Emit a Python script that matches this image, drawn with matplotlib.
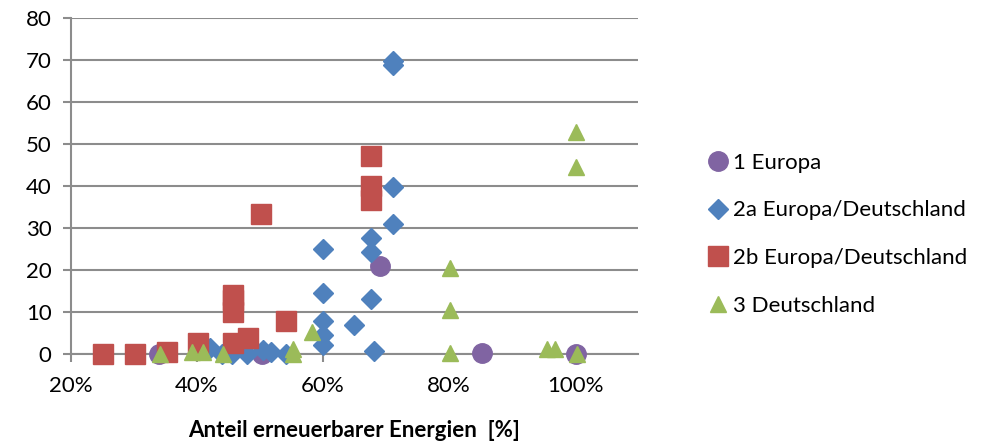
import matplotlib
matplotlib.use("Agg")
import matplotlib.pyplot as plt
from matplotlib.ticker import FuncFormatter

plt.rcParams['font.family'] = ['Lato', 'DejaVu Sans']

# 1 Europa
x_eu = [34, 50.3, 69, 85.2, 100.2]
y_eu = [0, 0, 21, 0.2, 0]
# 2a Europa/Deutschland
x_2a = [42, 44, 45.5, 48, 50.5, 51.8, 54.2, 60, 60, 60, 60, 60, 64.9, 67.6, 67.6, 67.6, 68.1, 71.1, 71.1, 71.1, 71.1]
y_2a = [1.4, 0, 0, 0, 1, 0.5, 0, 25, 14.5, 7.8, 4.5, 2.2, 7, 27.6, 24.4, 13.1, 0.7, 69.8, 68.8, 39.8, 31]
# 2b Europa/Deutschland
x_2b = [25.1, 30.2, 35.2, 40.2, 45.7, 45.7, 45.7, 45.7, 48.1, 50.2, 54.1, 67.6, 67.6, 67.6]
y_2b = [0, 0, 0.4, 2.6, 14, 12.9, 10, 2.6, 3.8, 33.3, 7.8, 47.1, 40, 36.7]
# 3 Deutschland
x_3 = [34.1, 39.2, 41, 44.1, 55.2, 55.2, 58.3, 80.2, 80.2, 80.2, 95.6, 96.8, 100.3, 100.2, 100.2]
y_3 = [0, 0.5, 0.5, 0, 1.2, 0, 5.3, 20.6, 10.5, 0.2, 1.1, 1.1, 0, 52.8, 44.6]

fig = plt.figure(figsize=(9.97, 4.42), dpi=100)
ax = fig.add_axes([0.0712, 0.199, 0.5688, 0.760])

ax.plot(x_eu, y_eu, 'o', color='#8064A2', markersize=14, label='1 Europa', zorder=3, clip_on=False)
ax.plot(x_2a, y_2a, 'D', color='#4F81BD', markersize=10, label='2a Europa/Deutschland', zorder=3, clip_on=False)
ax.plot(x_2b, y_2b, 's', color='#C0504D', markersize=14, label='2b Europa/Deutschland', zorder=3, clip_on=False)
ax.plot(x_3, y_3, '^', color='#9BBB59', markersize=11.5, label='3 Deutschland', zorder=3, clip_on=False)

ax.set_xlim(20, 110)
ax.set_ylim(0, 80)
ax.set_xticks([20, 40, 60, 80, 100])
ax.set_yticks(range(0, 81, 10))
ax.xaxis.set_major_formatter(FuncFormatter(lambda v, p: '%d%%' % v))
ax.grid(axis='y', color='#8c8c8c', linewidth=1.5)
ax.set_axisbelow(True)
for s in ['top', 'right']:
    ax.spines[s].set_visible(False)
for s in ['left', 'bottom']:
    ax.spines[s].set_color('#8c8c8c')
    ax.spines[s].set_linewidth(1.5)
ax.tick_params(axis='both', colors='#8c8c8c', width=1.5, length=6, labelsize=16, labelcolor='black')
ax.tick_params(axis='x', pad=10)
ax.tick_params(axis='y', pad=8)
ax.set_xlabel('Anteil erneuerbarer Energien  [%]', fontsize=16, fontweight='bold', labelpad=17)

ax.legend(loc='center left', bbox_to_anchor=(0.688, 0.47), bbox_transform=fig.transFigure,
          frameon=False, fontsize=16, handletextpad=0.1, labelspacing=1.25, handlelength=1.1)

fig.savefig('out.png', dpi=100)
